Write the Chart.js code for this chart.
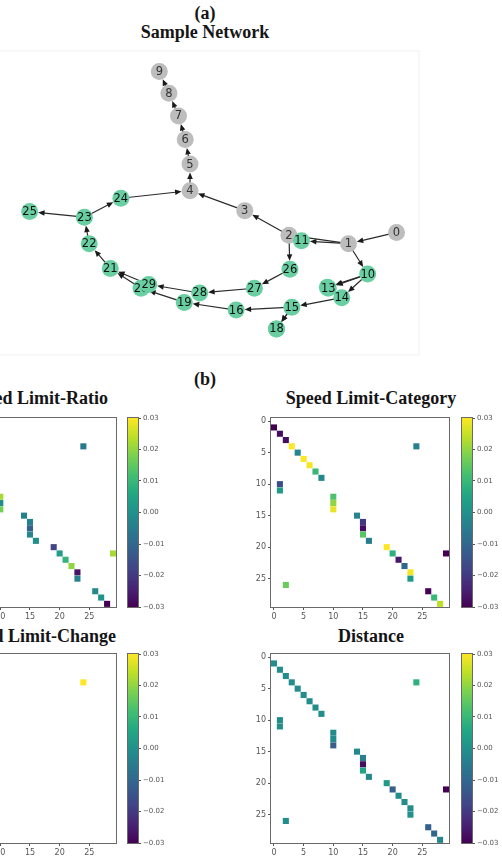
<!DOCTYPE html>
<html>
<head>
<meta charset="utf-8">
<script src="https://cdn.jsdelivr.net/npm/chart.js@4.4.1/dist/chart.umd.min.js"></script>
<style>
  body { margin: 0; background: #fff; }
  #page { position: relative; width: 502px; height: 857px; overflow: hidden; background: #fff; }
  .box { position: absolute; }
  .ttl { position: absolute; font: bold 18px "Liberation Serif", serif; color: #151515; white-space: nowrap; line-height: 1; }
  .ctr { transform: translate(-50%, -50%); }
  .rgt { transform: translate(-100%, -50%); }
</style>
</head>
<body>
<div id="page">
  <div class="ttl ctr" style="left:205px; top:13px;">(a)</div>
  <div class="ttl ctr" style="left:205px; top:32px;">Sample Network</div>
  <div class="box" style="left:0px; top:42px;"><canvas id="network" width="430" height="322"></canvas></div>

  <div class="ttl ctr" style="left:205px; top:379px;">(b)</div>
  <div class="ttl rgt" style="left:108px; top:398px;">Speed Limit-Ratio</div>
  <div class="ttl ctr" style="left:371px; top:398px;">Speed Limit-Category</div>
  <div class="ttl rgt" style="left:116px; top:636px;">Speed Limit-Change</div>
  <div class="ttl ctr" style="left:371px; top:636px;">Distance</div>

  <div class="box" style="left:-97px; top:410px;"><canvas id="hmRatio" width="224" height="215"></canvas></div>
  <div class="box" style="left:121px; top:410px;"><canvas id="cbRatio" width="47" height="215"></canvas></div>
  <div class="box" style="left:236px; top:410px;"><canvas id="hmCategory" width="224" height="215"></canvas></div>
  <div class="box" style="left:455px; top:410px;"><canvas id="cbCategory" width="47" height="215"></canvas></div>
  <div class="box" style="left:-97px; top:646px;"><canvas id="hmChange" width="224" height="215"></canvas></div>
  <div class="box" style="left:121px; top:646px;"><canvas id="cbChange" width="47" height="215"></canvas></div>
  <div class="box" style="left:236px; top:646px;"><canvas id="hmDistance" width="224" height="215"></canvas></div>
  <div class="box" style="left:455px; top:646px;"><canvas id="cbDistance" width="47" height="215"></canvas></div>
</div>
<script>
// node layout, nodes 0..29
const nodeX = [0.945, 0.695, 0.385, 0.155, -0.13, -0.13, -0.155, -0.19, -0.24, -0.29,
               0.795, 0.45, 0.585, 0.59, 0.66, 0.40, 0.11, 0.32, 0.32, -0.16,
               -0.385, -0.545, -0.655, -0.68, -0.49, -0.965, 0.39, 0.205, -0.08, -0.345];
const nodeY = [-0.193, -0.267, -0.211, -0.050, 0.081, 0.255, 0.416, 0.571, 0.720, 0.863,
               -0.466, -0.248, -0.553, -0.559, -0.621, -0.683, -0.702, -0.826, -0.826, -0.652,
               -0.559, -0.429, -0.267, -0.093, 0.031, -0.056, -0.435, -0.559, -0.590, -0.534];
const grayNodeCount = 10;

// directed edges (from -> to); also the non-empty cells of the matrices (col = from, row = to)
const edgeFrom = [0,1,2,3,4,5,6,7,8, 1,1, 10,10,10, 14, 15,15,15, 16, 19,20,21,22,23,23, 24, 29, 2, 26,27,28];
const edgeTo   = [1,2,3,4,5,6,7,8,9, 10,11, 12,13,14, 15, 16,17,18, 19, 20,21,22,23,24,25, 4, 21, 26, 27,28,29];

// cell values per feature, same order as the edges
const ratioVals    = [0,0,0,0,0,0,0,0,0, 0,0, 0.022,-0.001,0.017, -0.004, -0.004,-0.012,-0.003, -0.001,
                      -0.018,0.003,0.009,0.02,-0.027,-0.004, -0.006, 0.022, 0, -0.002,0.0,-0.03];
const categoryVals = [-0.03,-0.028,-0.028,0.03,-0.003,0.03,0.029,0.01,-0.002, -0.016,0.002, 0.013,0.02,0.028, -0.003,
                      -0.02,-0.028,0.014, -0.005, 0.03,0.008,-0.026,-0.01,0.029,0.002, -0.004, -0.03, 0.016, -0.03,0.01,0.024];
const changeVals   = [null,null,null,null,null,null,null,null,null, null,null, null,null,null, null,
                      null,null,null, null, null,null,null,null,null,null, 0.03, null, null, null,null,null];
const distanceVals = [-0.001,-0.001,-0.001,-0.001,-0.001,-0.001,-0.001,-0.001,-0.001, -0.001,-0.001,
                      -0.001,-0.001,-0.012, -0.002, -0.004,-0.028,0.005, -0.002, 0.002,-0.012,-0.001,-0.001,-0.001,0.0,
                      0.008, -0.03, -0.001, -0.012,-0.01,-0.003];

const axisTicks = [0, 5, 10, 15, 20, 25];
const cbTicks = [0.03, 0.02, 0.01, 0.00, -0.01, -0.02, -0.03];
const vMin = -0.03, vMax = 0.03;

Chart.defaults.font.family = "'DejaVu Sans', sans-serif";
Chart.defaults.animation = false;

const viridisStops = ['#440154','#482475','#414487','#355f8d','#2a788e','#21918c','#22a884','#44bf70','#7ad151','#bddf26','#fde725'];
function hexRgb(h) { return [1,3,5].map(i => parseInt(h.substr(i,2),16)); }
function viridis(t) {
  t = Math.max(0, Math.min(1, t));
  const p = t * (viridisStops.length - 1);
  const i = Math.min(Math.floor(p), viridisStops.length - 2);
  const f = p - i;
  const a = hexRgb(viridisStops[i]), b = hexRgb(viridisStops[i+1]);
  const c = a.map((v, k) => Math.round(v + (b[k]-v)*f));
  return 'rgb(' + c.join(',') + ')';
}
function valColor(v) { return viridis((v - vMin) / (vMax - vMin)); }

// ---------- network ----------
const nodeR = 8.5;
const edgePlugin = {
  id: 'edges',
  beforeDatasetsDraw(chart) {
    const {ctx, scales: {x, y}} = chart;
    ctx.save();
    ctx.strokeStyle = '#2b2b2b';
    ctx.fillStyle = '#1a1a1a';
    ctx.lineWidth = 1.2;
    edgeFrom.forEach((a, i) => {
      const b = edgeTo[i];
      const x1 = x.getPixelForValue(nodeX[a]), y1 = y.getPixelForValue(nodeY[a]);
      const x2 = x.getPixelForValue(nodeX[b]), y2 = y.getPixelForValue(nodeY[b]);
      const len = Math.hypot(x2-x1, y2-y1);
      if (len < 1) return;
      const ux = (x2-x1)/len, uy = (y2-y1)/len;
      const tx = x2 - ux*nodeR, ty = y2 - uy*nodeR;
      ctx.beginPath();
      ctx.moveTo(x1, y1);
      ctx.lineTo(tx - ux*4, ty - uy*4);
      ctx.stroke();
      const hl = 6.5, hw = 2.8;
      ctx.beginPath();
      ctx.moveTo(tx, ty);
      ctx.lineTo(tx - ux*hl - uy*hw, ty - uy*hl + ux*hw);
      ctx.lineTo(tx - ux*hl + uy*hw, ty - uy*hl - ux*hw);
      ctx.closePath();
      ctx.fill();
    });
    ctx.restore();
  },
  afterDatasetDraw(chart, args) {
    const ds = chart.data.datasets[args.index];
    const pt = args.meta.data[0];
    const ctx = chart.ctx;
    ctx.save();
    ctx.font = "11.5px 'DejaVu Sans'";
    ctx.textAlign = 'center';
    ctx.textBaseline = 'middle';
    ctx.fillStyle = ds.node < grayNodeCount ? '#333' : '#111';
    ctx.fillText(String(ds.node), pt.x, pt.y + 0.5);
    ctx.restore();
  },
  afterDraw(chart) {
    const {ctx, chartArea: a} = chart;
    ctx.save();
    ctx.strokeStyle = '#f1f1f1';
    ctx.lineWidth = 1;
    ctx.strokeRect(a.left - 10.5, a.top + 0.5, a.right - a.left + 8, a.bottom - a.top - 1);
    ctx.restore();
  }
};

new Chart(document.getElementById('network'), {
  type: 'scatter',
  data: {
    datasets: nodeX.map((nx, i) => ({
      node: i,
      order: nodeX.length - 1 - i,
      data: [{x: nx, y: nodeY[i]}],
      pointRadius: nodeR,
      pointHoverRadius: nodeR,
      borderWidth: 0,
      backgroundColor: i < grayNodeCount ? '#bdbdbd' : '#69cfa2',
      clip: false
    }))
  },
  options: {
    responsive: false,
    layout: { padding: 0 },
    plugins: { legend: { display: false }, tooltip: { enabled: false } },
    scales: {
      x: { display: false, min: -1.075, max: 1.075 },
      y: { display: false, min: -1, max: 1 }
    }
  },
  plugins: [edgePlugin]
});

// ---------- heatmaps ----------
const framePlugin = {
  id: 'frame',
  afterDatasetsDraw(chart) {
    const {ctx, chartArea: a} = chart;
    ctx.save();
    ctx.strokeStyle = '#6a6a6a';
    ctx.lineWidth = 1;
    ctx.strokeRect(Math.round(a.left) - 0.5, Math.round(a.top) - 0.5, Math.round(a.right - a.left) + 1, Math.round(a.bottom - a.top) + 1);
    ctx.restore();
  }
};

function tickAxis(extra) {
  return Object.assign({
    type: 'linear', min: -0.5, max: 29.5,
    afterBuildTicks: s => { s.ticks = axisTicks.map(v => ({value: v})); },
    grid: { display: true, drawOnChartArea: false, drawTicks: true, tickLength: 3, color: '#555' },
    border: { display: false },
    ticks: { font: { size: 8 }, color: '#555', padding: 2, maxRotation: 0, autoSkip: false }
  }, extra);
}

function makeHeatmap(id, vals) {
  const cells = [];
  vals.forEach((v, i) => {
    if (v === null) return;
    cells.push({x: edgeFrom[i], y: edgeTo[i], v: v});
  });
  new Chart(document.getElementById(id), {
    type: 'scatter',
    data: { datasets: [{
      data: cells,
      pointStyle: 'rect',
      pointRadius: 4.3,
      pointHoverRadius: 4.3,
      borderWidth: 0,
      backgroundColor: c => valColor(c.raw ? c.raw.v : 0)
    }] },
    options: {
      responsive: false,
      layout: { padding: { left: 0, top: 8, right: 11, bottom: 0 } },
      plugins: { legend: { display: false }, tooltip: { enabled: false } },
      scales: {
        x: tickAxis({ position: 'bottom', afterFit: s => { s.height = 18; } }),
        y: tickAxis({ position: 'left', reverse: true, afterFit: s => { s.width = 35; } })
      }
    },
    plugins: [framePlugin]
  });
}

function makeColorbar(id) {
  new Chart(document.getElementById(id), {
    type: 'bar',
    data: {
      labels: ['cb'],
      datasets: [{
        data: [[vMin, vMax]],
        barPercentage: 1,
        categoryPercentage: 1,
        borderWidth: 0,
        backgroundColor: c => {
          const a = c.chart.chartArea;
          if (!a) return '#21918c';
          const g = c.chart.ctx.createLinearGradient(0, a.bottom, 0, a.top);
          viridisStops.forEach((col, i) => g.addColorStop(i / (viridisStops.length - 1), col));
          return g;
        }
      }]
    },
    options: {
      responsive: false,
      layout: { padding: { left: 7, top: 8, right: 0, bottom: 18 } },
      plugins: { legend: { display: false }, tooltip: { enabled: false } },
      scales: {
        x: { display: false },
        y: {
          position: 'right', min: vMin, max: vMax,
          afterBuildTicks: s => { s.ticks = cbTicks.map(v => ({value: v})); },
          afterFit: s => { s.width = 30; },
          grid: { display: true, drawOnChartArea: false, drawTicks: true, tickLength: 3, color: '#555' },
          border: { display: false },
          ticks: {
            font: { size: 7 }, color: '#555', padding: 2,
            callback: v => (v < -1e-9 ? '\u2212' : '') + Math.abs(v).toFixed(2)
          }
        }
      }
    },
    plugins: [framePlugin]
  });
}

makeHeatmap('hmRatio', ratioVals);
makeHeatmap('hmCategory', categoryVals);
makeHeatmap('hmChange', changeVals);
makeHeatmap('hmDistance', distanceVals);
makeColorbar('cbRatio');
makeColorbar('cbCategory');
makeColorbar('cbChange');
makeColorbar('cbDistance');
</script>
</body>
</html>
